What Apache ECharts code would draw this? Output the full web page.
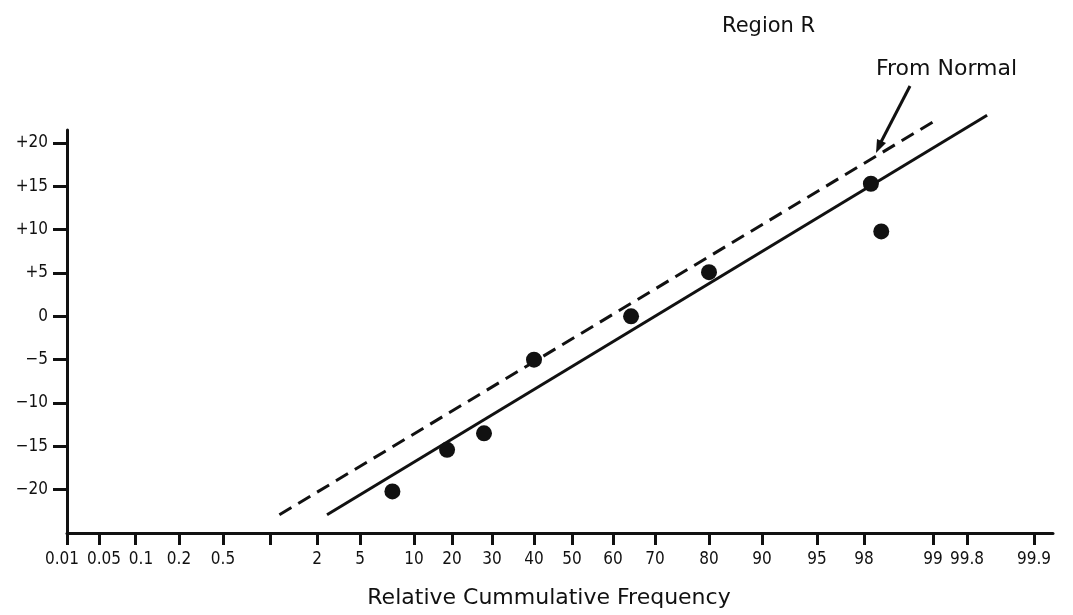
<!DOCTYPE html>
<html>
<head>
<meta charset="utf-8">
<script src="https://cdn.jsdelivr.net/npm/echarts@6/dist/echarts.min.js"></script>
<style>
  html, body { margin: 0; padding: 0; background: #fff; }
  #chart { width: 1073px; height: 615px; }
</style>
</head>
<body>
<div id="chart"></div>
<script>
// ---- Axis definitions (probability-paper x axis) ----
const xTickPercent = [0.01, 0.05, 0.1, 0.2, 0.5, 1, 2, 5, 10, 20, 30, 40, 50, 60, 70, 80, 90, 95, 98, 99, 99.8, 99.9];
const xTickLabels  = ['0.01', '0.05', '0.1', '0.2', '0.5', '', '2', '5', '10', '20', '30', '40', '50', '60', '70', '80', '90', '95', '98', '99', '99.8', '99.9'];
// distance of each tick along the (hand-ruled) probability paper, from the 0.01 tick
const xTickPaper   = [0, 32, 68, 112, 156, 203, 250, 293, 347, 385, 425, 467, 505, 546, 588, 642, 695, 750, 797, 866, 900, 967];
const xPaperMax = 986;

const yTickValues = [-20, -15, -10, -5, 0, 5, 10, 15, 20];
const yTickLabels = ['\u221220', '\u221215', '\u221210', '\u22125', '0', '+5', '+10', '+15', '+20'];

// ---- Data ----
const obsFreqPct   = [8, 18.7, 28, 40, 64.3, 80, 98.1, 98.25];
const obsDeviation = [-20.2, -15.4, -13.5, -5.0, 0.0, 5.1, 15.3, 9.8];

const fitFreqPct   = [2.7, 99.83];
const fitDeviation = [-22.9, 23.2];

const normalFreqPct   = [1.2, 99.09];
const normalDeviation = [-22.9, 22.7];

// map a cumulative percentage onto the paper's x scale (piecewise along ruled ticks)
function paperX(p) {
  for (let i = 0; i < xTickPercent.length - 1; i++) {
    const a = xTickPercent[i], b = xTickPercent[i + 1];
    if (p >= a && p <= b) {
      return xTickPaper[i] + (p - a) / (b - a) * (xTickPaper[i + 1] - xTickPaper[i]);
    }
  }
  return p < xTickPercent[0] ? 0 : xTickPaper[xTickPaper.length - 1];
}
const toPairs = (xs, ys) => xs.map((p, i) => [paperX(p), ys[i]]);

const FONT = '"DejaVu Sans Condensed", "DejaVu Sans"';
const INK = '#111';

const chart = echarts.init(document.getElementById('chart'), null, { renderer: 'canvas' });
chart.setOption({
  animation: false,
  backgroundColor: '#fff',
  grid: { left: 67, right: 20, top: 130, bottom: 82, containLabel: false },
  xAxis: {
    type: 'value',
    min: 0,
    max: xPaperMax,
    splitLine: { show: false },
    axisLine: { show: true, onZero: false, lineStyle: { color: INK, width: 3 } },
    axisTick: { show: true, inside: false, length: 12, lineStyle: { color: INK, width: 3 }, customValues: xTickPaper },
    axisLabel: {
      customValues: xTickPaper,
      interval: 0,
      showMinLabel: true,
      showMaxLabel: true,
      hideOverlap: false,
      margin: 18,
      color: INK,
      fontFamily: FONT,
      fontSize: 17,
      rich: {
        l: { fontFamily: FONT, fontSize: 17, color: INK, padding: [0, 10, 0, 0] },
        r: { fontFamily: FONT, fontSize: 17, color: INK, padding: [0, 0, 0, 10] },
        r2: { fontFamily: FONT, fontSize: 17, color: INK, padding: [0, 0, 0, 12] }
      },
      formatter: function (v) {
        const i = xTickPaper.indexOf(v);
        if (i < 0) return '';
        if (i === 0) return '{l|' + xTickLabels[i] + '}';
        if (i === 1) return '{r|' + xTickLabels[i] + '}';
        if (i === 2) return '{r2|' + xTickLabels[i] + '}';
        return xTickLabels[i];
      }
    }
  },
  yAxis: {
    type: 'value',
    min: -25,
    max: 21.5,
    interval: 5,
    splitLine: { show: false },
    axisLine: { show: true, onZero: false, lineStyle: { color: INK, width: 3 } },
    axisTick: { show: true, inside: false, length: 14, lineStyle: { color: INK, width: 3 }, customValues: yTickValues },
    axisLabel: {
      customValues: yTickValues,
      interval: 0,
      margin: 19,
      color: INK,
      fontFamily: FONT,
      fontSize: 17,
      formatter: function (v) {
        const i = yTickValues.indexOf(v);
        return i >= 0 ? yTickLabels[i] : '';
      }
    }
  },
  series: [
    {
      name: 'Fitted',
      type: 'line',
      data: toPairs(fitFreqPct, fitDeviation),
      showSymbol: false,
      clip: false,
      lineStyle: { color: INK, width: 3 },
      z: 2
    },
    {
      name: 'From Normal',
      type: 'line',
      data: toPairs(normalFreqPct, normalDeviation),
      showSymbol: false,
      clip: false,
      lineStyle: { color: INK, width: 3, type: [14, 8] },
      z: 2
    },
    {
      name: 'Observed',
      type: 'scatter',
      data: toPairs(obsFreqPct, obsDeviation),
      symbol: 'circle',
      symbolSize: 16,
      itemStyle: { color: INK, opacity: 1 },
      clip: false,
      z: 3
    }
  ],
  graphic: [
    {
      type: 'text', left: 722, top: 16,
      style: { text: 'Region R', font: '21px "DejaVu Sans"', fill: INK }
    },
    {
      type: 'text', left: 876, top: 58,
      style: { text: 'From Normal', font: '22px "DejaVu Sans"', fill: INK }
    },
    {
      type: 'line',
      shape: { x1: 910, y1: 86, x2: 881, y2: 142 },
      style: { stroke: INK, lineWidth: 3 }
    },
    {
      type: 'polygon',
      shape: { points: [[876, 153], [886, 143], [877, 139]] },
      style: { fill: INK }
    },
    {
      type: 'text', x: 549, y: 598,
      style: { text: 'Relative Cummulative Frequency', font: '22px "DejaVu Sans"', fill: INK, align: 'center', verticalAlign: 'middle' }
    }
  ]
});
</script>
</body>
</html>
